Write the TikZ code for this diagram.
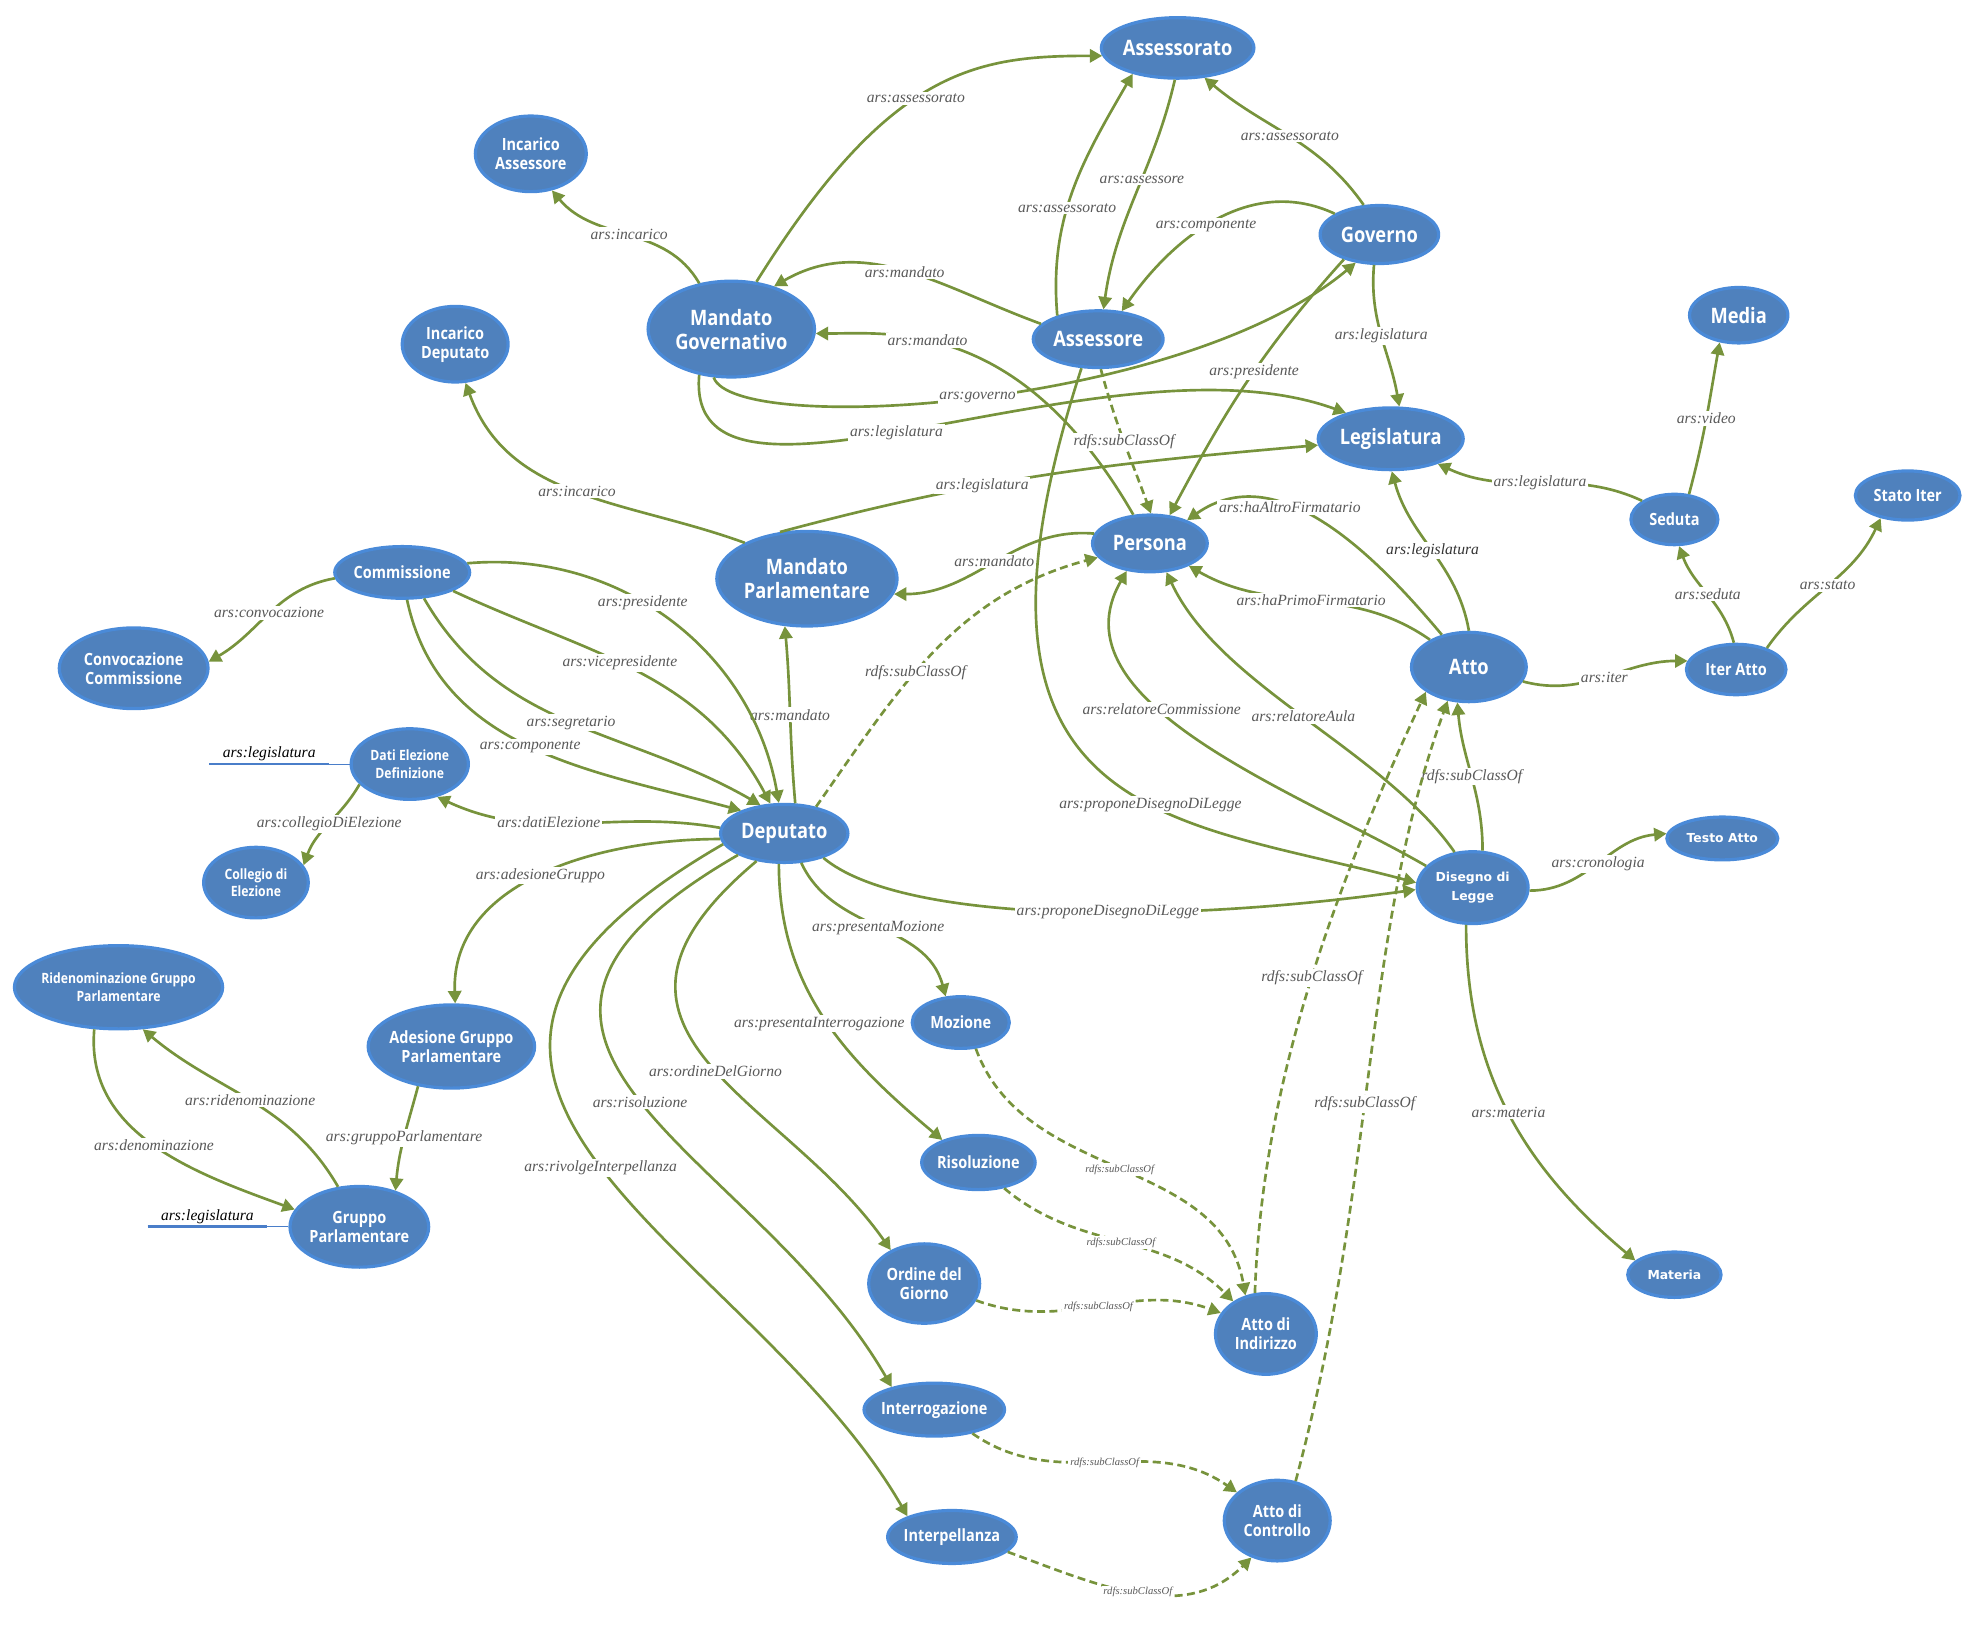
\documentclass[tikz,border=0pt]{standalone}
\usepackage{fontspec}
\usepackage{tikz}
\usetikzlibrary{positioning,shapes,arrows.meta,calc}
\newfontfamily\nodefont[FakeStretch=0.86]{Open Sans}
\newfontfamily\widefont{DejaVu Sans}
\newfontfamily\lblfont{Liberation Serif}
\definecolor{nodeblue}{HTML}{4F81BD}
\definecolor{ringblue}{HTML}{4A8AD8}
\definecolor{relgreen}{HTML}{77933C}
\definecolor{lblgray}{HTML}{595959}
\definecolor{stubblue}{HTML}{4A7EC9}

\begin{document}
\begin{tikzpicture}[x=0.025cm,y=0.025cm,
        cls/.style={ellipse,draw=ringblue,fill=nodeblue,line width=1.8pt,text=white,inner xsep=-2pt,inner ysep=0pt,align=center,font=\nodefont\bfseries\fontsize{9.5}{10.7}\selectfont},
        bigcls/.style={cls,font=\nodefont\bfseries\fontsize{12}{13.5}\selectfont},
        smallcls/.style={cls,font=\nodefont\bfseries\fontsize{8}{10}\selectfont},
        widecls/.style={cls,font=\widefont\bfseries\fontsize{7}{10.5}\selectfont},
        sz/.style 2 args={minimum width=#1*0.025cm,minimum height=#2*0.025cm},
        rel/.style={draw=relgreen,line width=1.5pt,-{Triangle[length=7pt,width=7.5pt]}},
        sub/.style={rel,dash pattern=on 4.5pt off 2.5pt},
        lbl/.style={fill=white,text=lblgray,inner sep=1pt,font=\lblfont\itshape\fontsize{8.8}{10}\selectfont},
        lbldark/.style={lbl,text=black!80},
        lblsmall/.style={lbl,font=\lblfont\itshape\fontsize{6}{7}\selectfont},
        stub/.style={draw=stubblue,line width=1.6pt},
        stubthin/.style={draw=stubblue,line width=0.6pt},
        stublbl/.style={text=black,inner sep=1pt,font=\lblfont\itshape\fontsize{8.8}{10}\selectfont}]
        \useasboundingbox (0,0) rectangle (1568,-1302);

        \node[bigcls,sz={121}{48}] (asrato) at (934,-38) {Assessorato};
        \node[cls,sz={88}{60}] (incass) at (421,-122) {Incarico\\Assessore};
        \node[bigcls,sz={132}{76}] (mgov) at (580,-261) {Mandato\\Governativo};
        \node[bigcls,sz={103}{45}] (assr) at (871,-269) {Assessore};
        \node[bigcls,sz={94}{46}] (gov) at (1094,-186) {Governo};
        \node[cls,sz={84}{60}] (incdep) at (361,-273) {Incarico\\Deputato};
        \node[bigcls,sz={78}{44}] (media) at (1379,-250) {Media};
        \node[bigcls,sz={115}{49}] (legis) at (1103,-348) {Legislatura};
        \node[cls,sz={69}{40}] (seduta) at (1328,-412) {Seduta};
        \node[cls,sz={83}{39}] (statoiter) at (1513,-393) {Stato Iter};
        \node[bigcls,sz={91}{45}] (persona) at (912,-431) {Persona};
        \node[bigcls,sz={143}{75}] (mparl) at (640,-459) {Mandato\\Parlamentare};
        \node[cls,sz={107}{41}] (commis) at (319,-454) {Commissione};
        \node[cls,sz={118}{64}] (convoc) at (106,-530) {Convocazione\\Commissione};
        \node[bigcls,sz={91}{55}] (atto) at (1165,-529) {Atto};
        \node[cls,sz={79}{40}] (iteratto) at (1377,-531) {Iter Atto};
        \node[smallcls,sz={93}{56}] (datiel) at (325,-606) {Dati Elezione\\Definizione};
        \node[bigcls,sz={101}{46}] (deputato) at (622,-661) {Deputato};
        \node[smallcls,sz={83}{56}] (collegio) at (203,-700) {Collegio di\\Elezione};
        \node[widecls,sz={88}{34}] (testo) at (1366,-665) {Testo Atto};
        \node[widecls,sz={88}{57}] (ddl) at (1168,-704) {Disegno di\\Legge};
        \node[smallcls,sz={163}{66}] (riden) at (94,-783) {Ridenominazione Gruppo\\Parlamentare};
        \node[cls,sz={132}{66}] (adesione) at (358,-830) {Adesione Gruppo\\Parlamentare};
        \node[cls,sz={77}{41}] (mozione) at (762,-811) {Mozione};
        \node[cls,sz={110}{64}] (gruppo) at (285,-973) {Gruppo\\Parlamentare};
        \node[cls,sz={90}{43}] (risol) at (776,-922) {Risoluzione};
        \node[cls,sz={88}{63}] (odg) at (733,-1018) {Ordine del\\Giorno};
        \node[widecls,sz={74}{36}] (materia) at (1328,-1011) {Materia};
        \node[cls,sz={80}{64}] (indirizzo) at (1004,-1058) {Atto di\\Indirizzo};
        \node[cls,sz={111}{42}] (interrog) at (741,-1118) {Interrogazione};
        \node[cls,sz={84}{64}] (controllo) at (1013,-1206) {Atto di\\Controllo};
        \node[cls,sz={102}{42}] (interpell) at (755,-1219) {Interpellanza};

        \draw[rel] (mgov.62) .. controls +(58:200) and +(180:100) .. (asrato.186) node[lbl,pos=.45] {ars:assessorato};
        \draw[rel] (mgov.125) to[out=120,in=-50] node[lbl] {ars:incarico} (incass.-60);
        \draw[rel] (assr.150) to[out=95,in=240] node[lbl,pos=.42] {ars:assessorato} (asrato.210);
        \draw[rel] (asrato.265) to[out=-103,in=82] node[lbl,pos=.43] {ars:assessore} (assr.80);
        \draw[rel] (gov.118) to[out=125,in=-40] node[lbl] {ars:assessorato} (asrato.-48);
        \draw[rel] (gov.155) to[out=155,in=55] node[lbl,pos=.55] {ars:componente} (assr.50);
        \draw[rel] (assr.165) to[out=160,in=30] node[lbl] {ars:mandato} (mgov.45);
        \draw[rel] (persona.120) .. controls +(120:180) and +(0:60) .. (mgov.-3) node[lbl,pos=.6] {ars:mandato};
        \draw[rel] (mgov.-110) .. controls +(290:50) and +(220:180) .. (gov.230) node[lbl,pos=.5] {ars:governo};
        \draw[rel] (mgov.-125) .. controls +(265:140) and +(160:200) .. (legis.150) node[lbl,pos=.46] {ars:legislatura};
        \draw[rel] (gov.-100) to[out=-95,in=100] node[lbl] {ars:legislatura} (legis.75);
        \draw[rel] (gov.215) to[out=228,in=62] node[lbl,pos=.46] {ars:presidente} (persona.55);
        \draw[sub] (assr.-85) to[out=-75,in=110] node[lbl] {rdfs:subClassOf} (persona.88);
        \draw[rel] (mparl.120) to[out=15,in=185] node[lbl,pos=.37] {ars:legislatura} (legis.185);
        \draw[rel] (assr.-120) .. controls +(252:380) and +(165:200) .. (ddl.175) node[lbl,pos=.6] {ars:proponeDisegnoDiLegge};
        \draw[rel] (persona.170) to[out=175,in=0] node[lbl] {ars:mandato} (mparl.-10);
        \draw[rel] (mparl.150) to[out=160,in=-70] node[lbl] {ars:incarico} (incdep.-75);

        \draw[rel] (atto.90) to[out=100,in=-75] node[lbldark] {ars:legislatura} (legis.-88);
        \draw[rel] (atto.130) to[out=130,in=35] node[lbl,pos=.62] {ars:haAltroFirmatario} (persona.32);
        \draw[rel] (atto.145) to[out=145,in=-30] node[lbl] {ars:haPrimoFirmatario} (persona.-30);
        \draw[rel] (seduta.150) to[out=155,in=-25] node[lbl] {ars:legislatura} (legis.-28);
        \draw[rel] (seduta.60) to[out=75,in=-100] node[lbl] {ars:video} (media.-125);
        \draw[rel] (iteratto.95) to[out=105,in=-70] node[lbl] {ars:seduta} (seduta.-80);
        \draw[rel] (iteratto.35) to[out=55,in=-115] node[lbl] {ars:stato} (statoiter.-140);
        \draw[rel] (atto.-15) to[out=-15,in=180] node[lbl] {ars:iter} (iteratto.170);

        \draw[rel] (ddl.155) .. controls +(150:120) and +(-120:120) .. (persona.-130) node[lbl,pos=.6] {ars:relatoreCommissione};
        \draw[rel] (ddl.117) .. controls +(125:100) and +(-65:100) .. (persona.-60) node[lbl,pos=.5] {ars:relatoreAula};
        \draw[rel] (ddl.75) to[out=90,in=-85] node[lbl] {rdfs:subClassOf} (atto.-108);
        \draw[sub] (indirizzo.105) .. controls +(88:150) and +(245:200) .. (atto.-150) node[lbl,pos=.55] {rdfs:subClassOf};
        \draw[sub] (controllo.65) .. controls +(75:250) and +(-110:200) .. (atto.-122) node[lbl,pos=.45] {rdfs:subClassOf};
        \draw[rel] (ddl.-3) to[out=0,in=185] node[lbl] {ars:cronologia} (testo.175);
        \draw[rel] (ddl.-100) to[out=-90,in=140] node[lbl] {ars:materia} (materia.160);

        \draw[rel] (deputato.70) to[out=95,in=-85] node[lbl] {ars:mandato} (mparl.-115);
        \draw[sub] (deputato.40) to[out=55,in=195] node[lbl,pos=.42] {rdfs:subClassOf} (persona.195);
        \draw[rel] (commis.8) to[out=5,in=100] node[lbl,pos=.42] {ars:presidente} (deputato.100);
        \draw[rel] (commis.-20) to[out=-25,in=118] node[lbl,pos=.45] {ars:vicepresidente} (deputato.115);
        \draw[rel] (commis.-50) to[out=-60,in=150] node[lbl] {ars:segretario} (deputato.130);
        \draw[rel] (commis.-80) to[out=-78,in=165] node[lbl] {ars:componente} (deputato.152);
        \draw[rel] (commis.185) to[out=190,in=30] node[lbl] {ars:convocazione} (convoc.5);
        \draw[rel] (deputato.175) to[out=170,in=-25] node[lbl,pos=.6] {ars:datiElezione} (datiel.-50);
        \draw[rel] (datiel.-158) to[out=-120,in=70] node[lbl] {ars:collegioDiElezione} (collegio.20);
        \draw[rel] (deputato.185) to[out=180,in=92] node[lbl] {ars:adesioneGruppo} (adesione.85);
        \draw[rel] (adesione.-130) to[out=-105,in=85] node[lbl] {ars:gruppoParlamentare} (gruppo.45);
        \draw[rel] (gruppo.118) to[out=120,in=-40] node[lbl] {ars:ridenominazione} (riden.-60);
        \draw[rel] (riden.-120) to[out=-95,in=160] node[lbl] {ars:denominazione} (gruppo.165);
        \draw[rel] (deputato.-32) .. controls +(-40:80) and +(188:200) .. (ddl.182) node[lbl,pos=.58] {ars:proponeDisegnoDiLegge};
        \draw[rel] (deputato.-60) to[out=-65,in=105] node[lbl] {ars:presentaMozione} (mozione.120);
        \draw[rel] (deputato.-100) to[out=-90,in=140] node[lbl,pos=.52,xshift=-5pt] {ars:presentaInterrogazione} (risol.148);
        \draw[rel] (deputato.-135) .. controls +(-140:210) and +(125:150) .. (odg.135) node[lbl,pos=.53] {ars:ordineDelGiorno};
        \draw[rel] (deputato.-155) .. controls +(-150:300) and +(120:220) .. (interrog.152) node[lbl,pos=.5] {ars:risoluzione};
        \draw[rel] (deputato.-170) .. controls +(-150:380) and +(120:250) .. (interpell.155) node[lbl,pos=.5] {ars:rivolgeInterpellanza};

        \foreach \from/\fa/\o/\i/\to/\ta in {mozione/-60/-70/100/indirizzo/118, risol/-45/-40/135/indirizzo/135, odg/-18/-20/160/indirizzo/155, interrog/-32/-35/145/controllo/145, interpell/-15/-20/-135/controllo/-125}
        \draw[sub] (\from.\fa) to[out=\o,in=\i] node[lblsmall] {rdfs:subClassOf} (\to.\ta);

        \coordinate (legdati) at (166,-606);
        \coordinate (leggruppo) at (117,-973);
        \draw[stubthin] (legdati) -- (datiel.west);
        \draw[stub] (legdati) -- node[stublbl,above] {ars:legislatura} ++(95,0);
        \draw[stubthin] (leggruppo) -- (gruppo.west);
        \draw[stub] (leggruppo) -- node[stublbl,above] {ars:legislatura} ++(95,0);
    \end{tikzpicture}
\end{document}
